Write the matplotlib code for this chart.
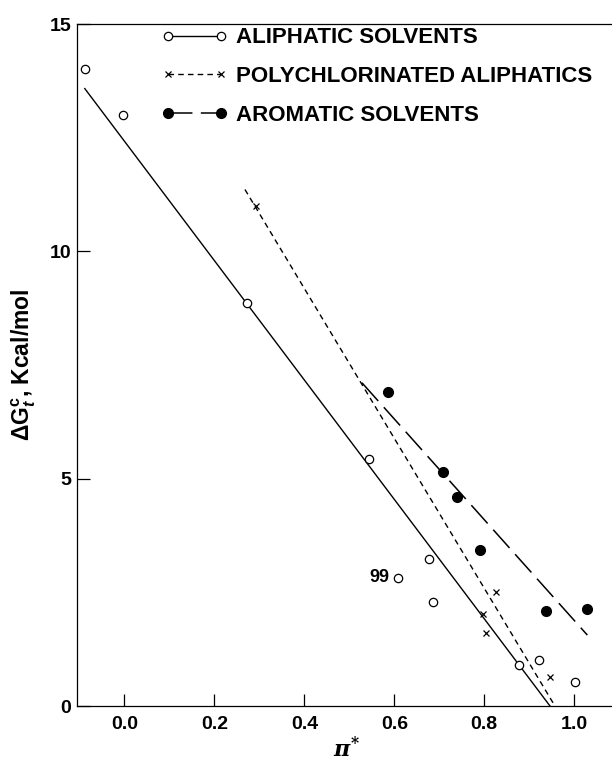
import matplotlib
matplotlib.use("Agg")
from matplotlib import pyplot as plt
from matplotlib.lines import Line2D

# aliphatic solvents (open circles)
aliph_x = [-0.087, -0.004, 0.272, 0.544, 0.676, 0.608, 0.687, 0.877, 0.922, 1.002]
aliph_y = [14.0, 13.0, 8.87, 5.43, 3.24, 2.82, 2.29, 0.90, 1.02, 0.52]
label_99 = 5

# polychlorinated aliphatics (x)
poly_x = [0.292, 0.826, 0.798, 0.803, 0.946]
poly_y = [11.0, 2.51, 2.02, 1.60, 0.64]

# aromatic solvents (filled circles)
arom_x = [0.585, 0.708, 0.739, 0.790, 0.936, 1.028]
arom_y = [6.91, 5.15, 4.60, 3.43, 2.09, 2.13]

# fitted lines (end points)
aliph_fit_x = [-0.088, 0.946]
aliph_fit_y = [13.58, 0.0]
poly_fit_x = [0.268, 0.957]
poly_fit_y = [11.36, 0.0]
arom_fit_x = [0.528, 1.029]
arom_fit_y = [7.11, 1.56]

xticks = [0.0, 0.2, 0.4, 0.6, 0.8, 1.0]
yticks = [0, 5, 10, 15]

plt.rcParams['font.family'] = ['Liberation Sans', 'DejaVu Sans']
plt.rcParams['font.weight'] = 'bold'
plt.rcParams['mathtext.fontset'] = 'custom'
plt.rcParams['mathtext.rm'] = 'Liberation Sans:bold'
plt.rcParams['mathtext.bf'] = 'Liberation Sans:bold'
plt.rcParams['mathtext.it'] = 'Liberation Sans:italic:bold'


def main():
    fig = plt.figure(figsize=(6.12, 7.65), dpi=100)
    ax = fig.add_axes([0.1253, 0.0771, 0.8747, 0.8915])

    short_dash = (0, (4, 3))
    long_dash = (0, (16, 5.5))

    ax.plot(aliph_fit_x, aliph_fit_y, color='black', lw=1.0)
    ax.plot(poly_fit_x, poly_fit_y, color='black', lw=1.0, linestyle=short_dash)
    ax.plot(arom_fit_x, arom_fit_y, color='black', lw=1.1, linestyle=long_dash)

    ax.plot(aliph_x, aliph_y, linestyle='none', marker='o', ms=6,
            mfc='white', mec='black', mew=0.9)
    ax.plot(poly_x, poly_y, linestyle='none', marker='x', ms=5,
            mec='black', mew=0.9)
    ax.plot(arom_x, arom_y, linestyle='none', marker='o', ms=7,
            mfc='black', mec='black')

    ax.annotate('99', (aliph_x[label_99], aliph_y[label_99]),
                xytext=(-6, 0), textcoords='offset points',
                ha='right', va='center', fontsize=13, fontweight='bold')

    handles = [
        Line2D([], [], color='black', lw=1.0, marker='o', ms=6,
               mfc='white', mec='black', mew=0.9),
        Line2D([], [], color='black', lw=1.0, linestyle=short_dash,
               marker='x', ms=5, mew=0.9),
        Line2D([], [], color='black', lw=1.1, linestyle=long_dash,
               marker='o', ms=7, mfc='black'),
    ]
    labels = ['ALIPHATIC SOLVENTS', 'POLYCHLORINATED ALIPHATICS',
              'AROMATIC SOLVENTS']
    ax.legend(handles, labels, loc='upper left', bbox_to_anchor=(0.159, 0.995),
              numpoints=2, handlelength=2.97, handletextpad=0.38,
              labelspacing=0.8, frameon=False, borderpad=0,
              borderaxespad=0, prop={'size': 16, 'weight': 'bold'})

    ax.set_xlim(-0.106, 1.0838)
    ax.set_ylim(0, 15)
    ax.set_xticks(xticks)
    ax.set_xticklabels(['%.1f' % t for t in xticks])
    ax.set_yticks(yticks)
    ax.tick_params(axis='x', direction='in', length=8.5, width=0.9,
                   labelsize=14, pad=7)
    ax.tick_params(axis='y', direction='in', length=9, width=0.9,
                   labelsize=14, pad=4)
    for lab in ax.get_xticklabels() + ax.get_yticklabels():
        lab.set_fontweight('bold')

    ax.spines['right'].set_visible(False)
    for s in ['left', 'top', 'bottom']:
        ax.spines[s].set_linewidth(0.9)

    ax.set_xlabel(r'$\pi^{*}$', fontsize=16, math_fontfamily='dejavuserif')
    ax.xaxis.set_label_coords(0.505, -0.046)
    ax.set_ylabel(r'$\Delta\mathrm{G}^{\mathrm{c}}_{\mathit{t}}$, Kcal/mol',
                  fontsize=16.5, fontweight='bold')
    ax.yaxis.set_label_coords(-0.072, 0.5)

    fig.savefig('out.png', dpi=100)


if __name__ == '__main__':
    main()
